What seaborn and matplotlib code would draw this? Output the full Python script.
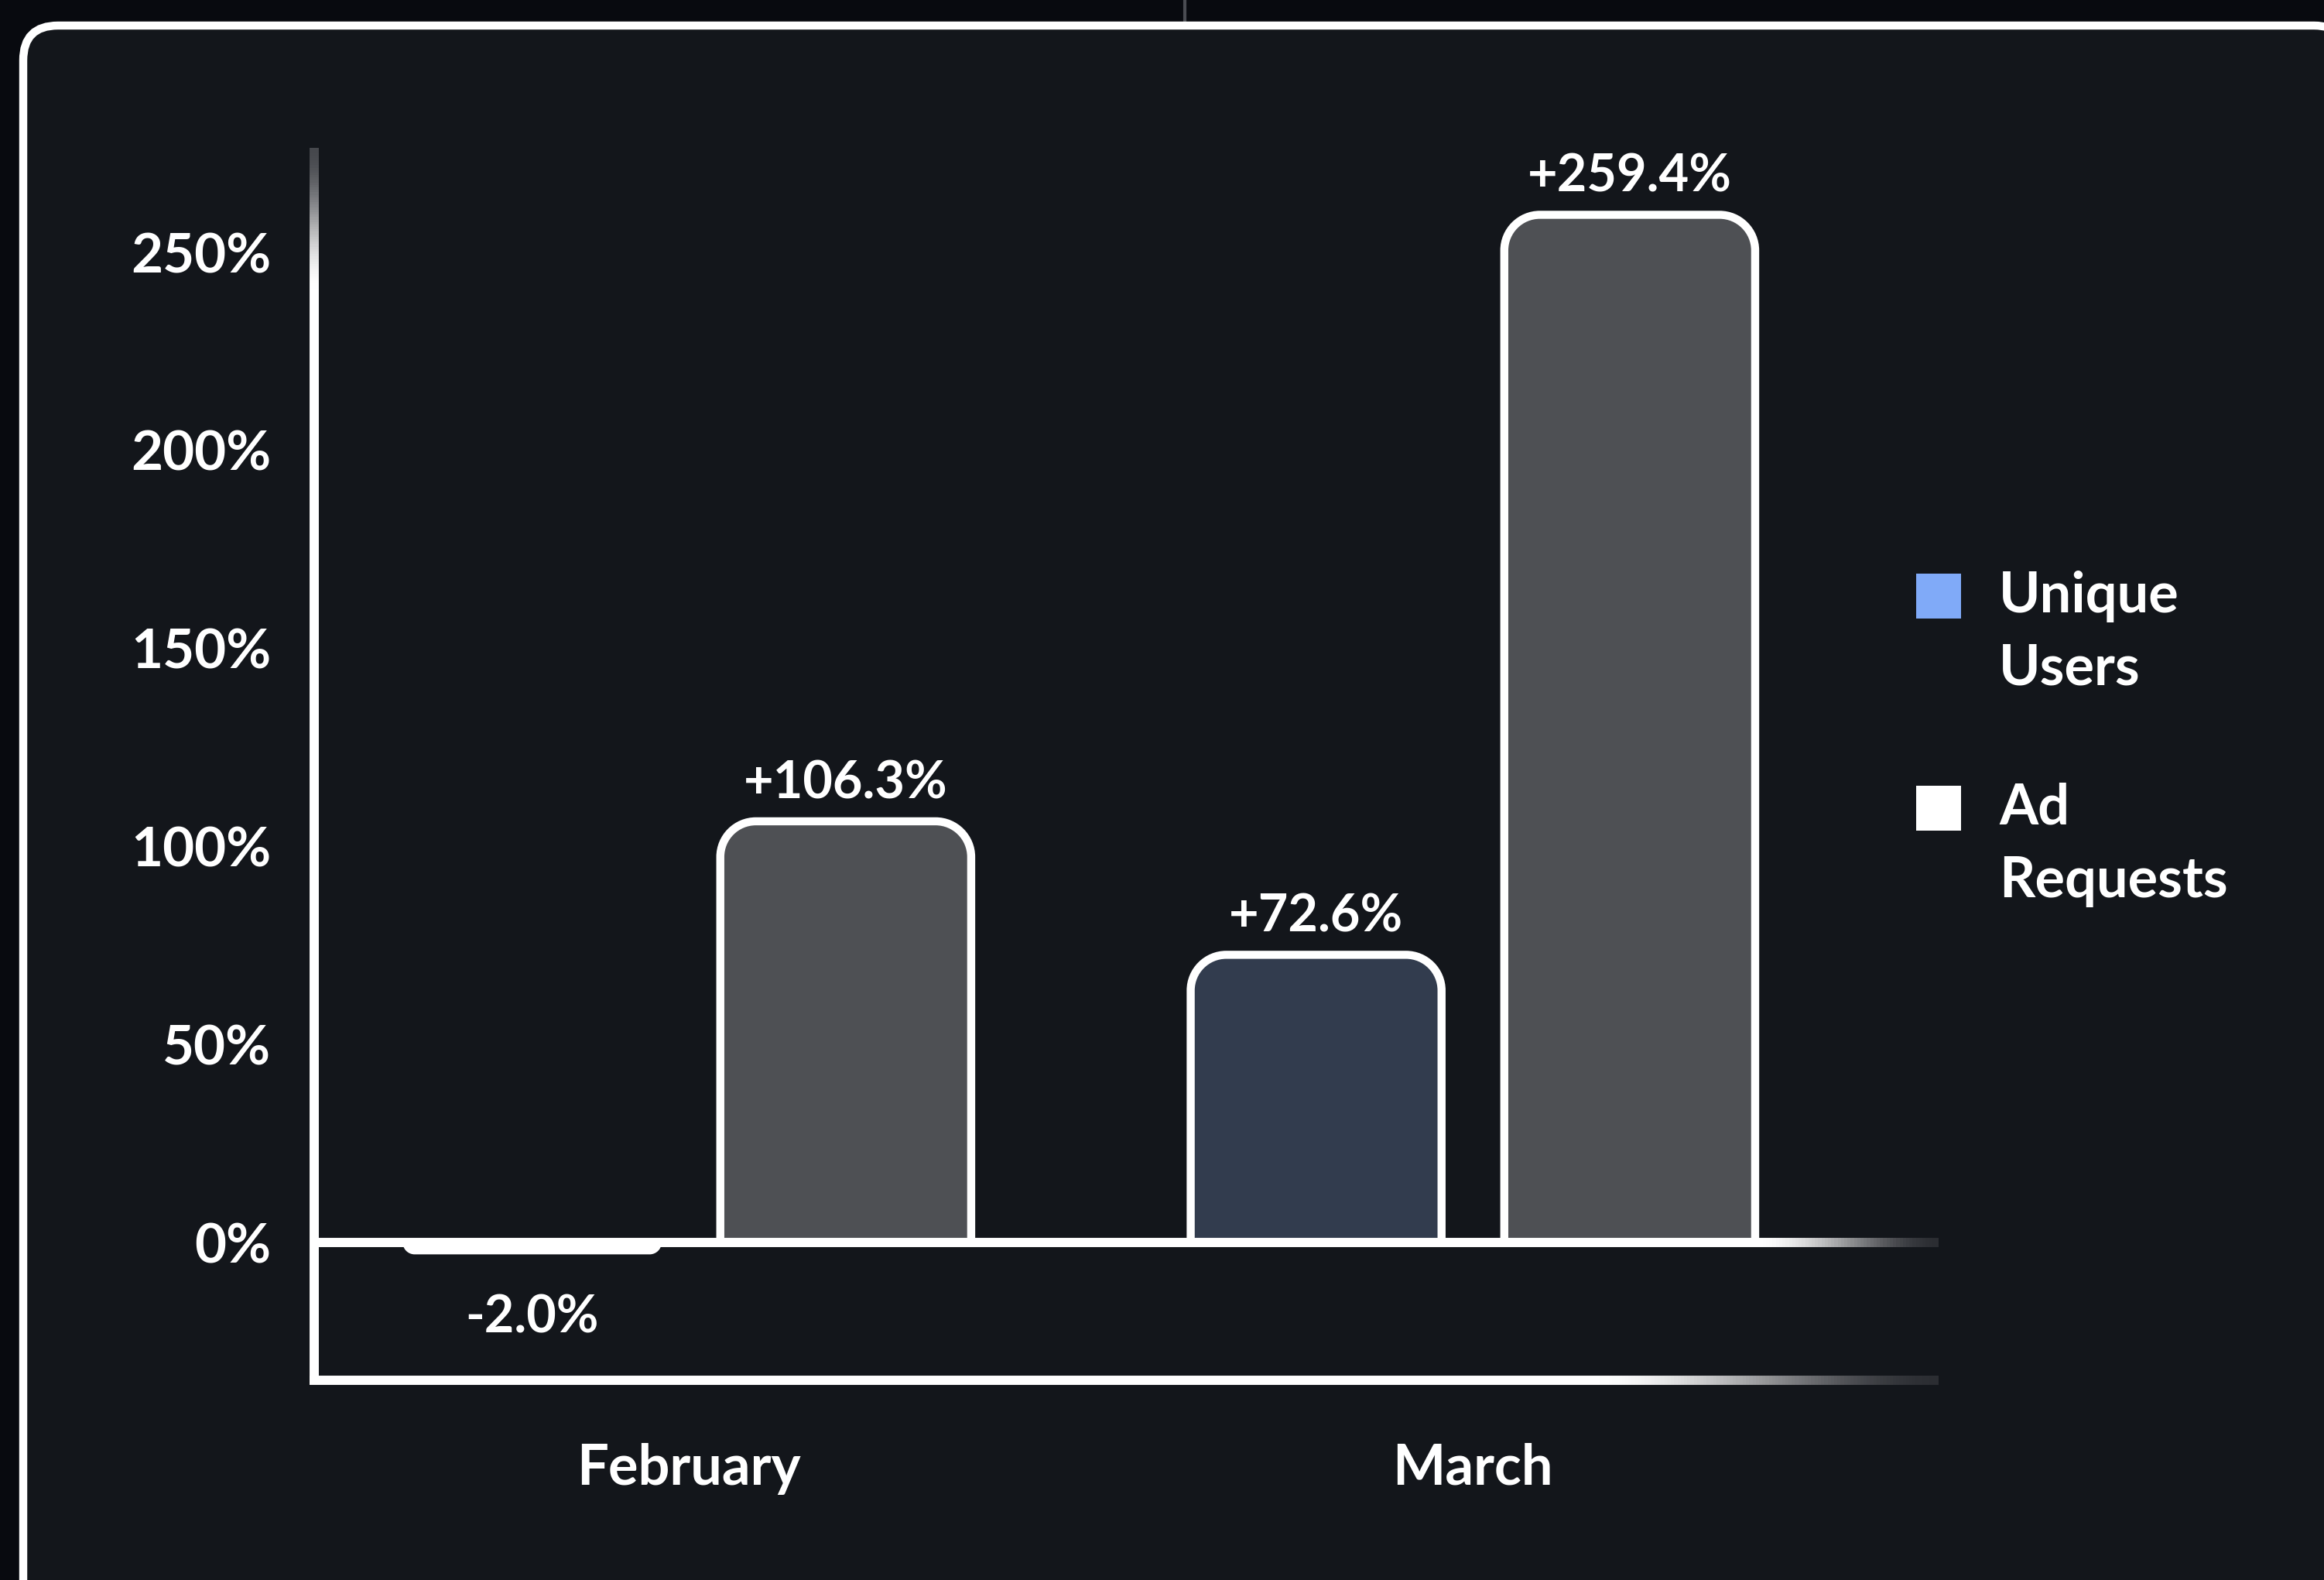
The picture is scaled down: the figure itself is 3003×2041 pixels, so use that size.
import numpy as np
import pandas as pd
import matplotlib
matplotlib.use("Agg")
import matplotlib.pyplot as plt
import seaborn as sns
from matplotlib.path import Path
from matplotlib.patches import PathPatch, FancyBboxPatch, Rectangle
from matplotlib.collections import LineCollection
from matplotlib.colors import to_rgb
from matplotlib.lines import Line2D
from matplotlib.transforms import IdentityTransform

# ---- data -------------------------------------------------------------
months = ["February", "March"]
metrics = ["Unique Users", "Ad Requests"]
unique_users = [-2.0, 72.6]
ad_requests = [106.3, 259.4]
y_ticks = [0, 50, 100, 150, 200, 250]
legend_labels = ["Unique\nUsers", "Ad\nRequests"]

df = pd.DataFrame({
    "month": months * 2,
    "metric": [metrics[0]] * len(months) + [metrics[1]] * len(months),
    "value": unique_users + ad_requests,
})

# ---- style ------------------------------------------------------------
OUTER_BG = "#080a0f"
CARD_BG = "#13161b"
BLUE = "#80aaf8"
WHITE = "#ffffff"
WEIGHT = "bold"
palette = {metrics[0]: BLUE, metrics[1]: WHITE}

sns.set_theme(style="dark")
plt.rcParams["font.family"] = ["Lato", "DejaVu Sans"]
plt.rcParams["font.weight"] = WEIGHT
plt.rcParams["text.color"] = WHITE

W, H = 3003, 2041
DPI = 100
fig = plt.figure(figsize=(W / DPI, H / DPI), dpi=DPI, facecolor=OUTER_BG)


def fx(px):
    return px / W


def fy(py):
    return 1 - py / H


# rounded card behind the chart
card = FancyBboxPatch((30, -80), 3005, H - 33 + 80,
                      boxstyle="round,pad=0,rounding_size=45",
                      transform=IdentityTransform(), facecolor=CARD_BG,
                      edgecolor=WHITE, linewidth=7.5, zorder=-5)
fig.add_artist(card)
fig.add_artist(Line2D([1531, 1531], [H - 30, H], transform=IdentityTransform(),
                      color="#4a4c52", linewidth=3, zorder=-6))

# axes area in pixels
AX_L, AX_R, AX_T, AX_B = 406, 2505, 191, 1783
ax = fig.add_axes([fx(AX_L), fy(AX_B), fx(AX_R - AX_L), (AX_B - AX_T) / H])
ax.set_facecolor("none")

sns.barplot(data=df, x="month", y="value", hue="metric", order=months,
            hue_order=metrics, palette=palette, width=0.8, gap=0.2,
            alpha=0.25, errorbar=None, legend=False, ax=ax)

XMIN, XMAX = -0.478, 1.594
YMIN, YMAX = -34.8, 276.3
ax.set_xlim(XMIN, XMAX)
ax.set_ylim(YMIN, YMAX)

# pixels per data unit
p0 = ax.transData.transform((0, 0))
p1 = ax.transData.transform((1, 1))
sx, sy = p1[0] - p0[0], p1[1] - p0[1]

# rounded bars: corners rounded on the side away from zero
R_PX = 46
k = 0.5523
for p in list(ax.patches):
    xl, w = p.get_x(), p.get_width()
    y0, h = p.get_y(), p.get_height()
    xr, y1 = xl + w, y0 + h
    s = 1 if h >= 0 else -1
    r = min(R_PX, abs(h) * sy, w * sx / 2)
    rx, ry = r / sx, r / sy
    verts = [(xl, y0), (xl, y1 - s * ry),
             (xl, y1 - s * ry + s * k * ry), (xl + rx - k * rx, y1), (xl + rx, y1),
             (xr - rx, y1),
             (xr - rx + k * rx, y1), (xr, y1 - s * ry + s * k * ry), (xr, y1 - s * ry),
             (xr, y0)]
    codes = [Path.MOVETO, Path.LINETO, Path.CURVE4, Path.CURVE4, Path.CURVE4,
             Path.LINETO, Path.CURVE4, Path.CURVE4, Path.CURVE4, Path.LINETO]
    fc = p.get_facecolor()
    p.remove()
    ax.add_patch(PathPatch(Path(verts, codes), facecolor=fc, edgecolor=WHITE,
                           linewidth=7.5, zorder=2, joinstyle="round"))
    label = f"{h:+.1f}%"
    off = 35 if h >= 0 else -63
    ax.annotate(label, (xl + w / 2, y1), xytext=(0, off), textcoords="offset points",
                ha="center", va="center", fontsize=48, color=WHITE,
                fontweight=WEIGHT)


def gradient_line(xs, ys, t, end_color, lw, zorder):
    pts = np.column_stack([xs, ys])
    segs = np.stack([pts[:-1], pts[1:]], axis=1)
    tm = (t[:-1] + t[1:]) / 2
    a = np.array(to_rgb(WHITE))
    b = np.array(to_rgb(end_color))
    cols = a[None, :] * (1 - tm[:, None]) + b[None, :] * tm[:, None]
    lc = LineCollection(segs, colors=cols, linewidths=lw, capstyle="butt",
                        zorder=zorder, clip_on=False)
    ax.add_collection(lc)


def ramp(v, start, stop):
    t = np.clip((v - start) / (stop - start), 0, 1)
    return t * t * (3 - 2 * t)


LW = 8.6
n = 500
# zero line
xs = np.linspace(XMIN, XMAX, n)
gradient_line(xs, np.zeros(n), ramp(xs, 1.36, XMAX), "#2b2d32", LW, 4)
# bottom frame line
xs_b = np.linspace(XMIN - 6 / sx, XMAX, n)
gradient_line(xs_b, np.full(n, YMIN), ramp(xs_b, 1.15, XMAX), "#2b2d32", LW, 4)
# y axis line
ys = np.linspace(YMIN, YMAX, n)
gradient_line(np.full(n, XMIN), ys, ramp(ys, 240, YMAX), "#46484d", LW, 4)

# ticks and labels
ax.set_yticks(y_ticks)
ax.set_yticklabels([f"{t}%" for t in y_ticks])
ax.tick_params(axis="y", length=0, pad=40, labelsize=51, labelcolor=WHITE)
ax.tick_params(axis="x", length=0, pad=58, labelsize=52, labelcolor=WHITE)
for lbl in ax.get_xticklabels() + ax.get_yticklabels():
    lbl.set_fontweight(WEIGHT)
ax.set_xlabel("")
ax.set_ylabel("")
ax.grid(False)
for sp in ax.spines.values():
    sp.set_visible(False)

# legend
leg_y = [770, 1044]
for (metric, text), cy in zip(zip(metrics, legend_labels), leg_y):
    fig.add_artist(Rectangle((fx(2476), fy(cy + 29)), fx(58), 58 / H,
                             transform=fig.transFigure, facecolor=palette[metric],
                             edgecolor="none"))
    fig.text(fx(2583), fy(cy + 47), text, ha="left", va="center", fontsize=52,
             color=WHITE, fontweight=WEIGHT, linespacing=1.5)

fig.savefig("out.png", dpi=DPI, facecolor=OUTER_BG)
